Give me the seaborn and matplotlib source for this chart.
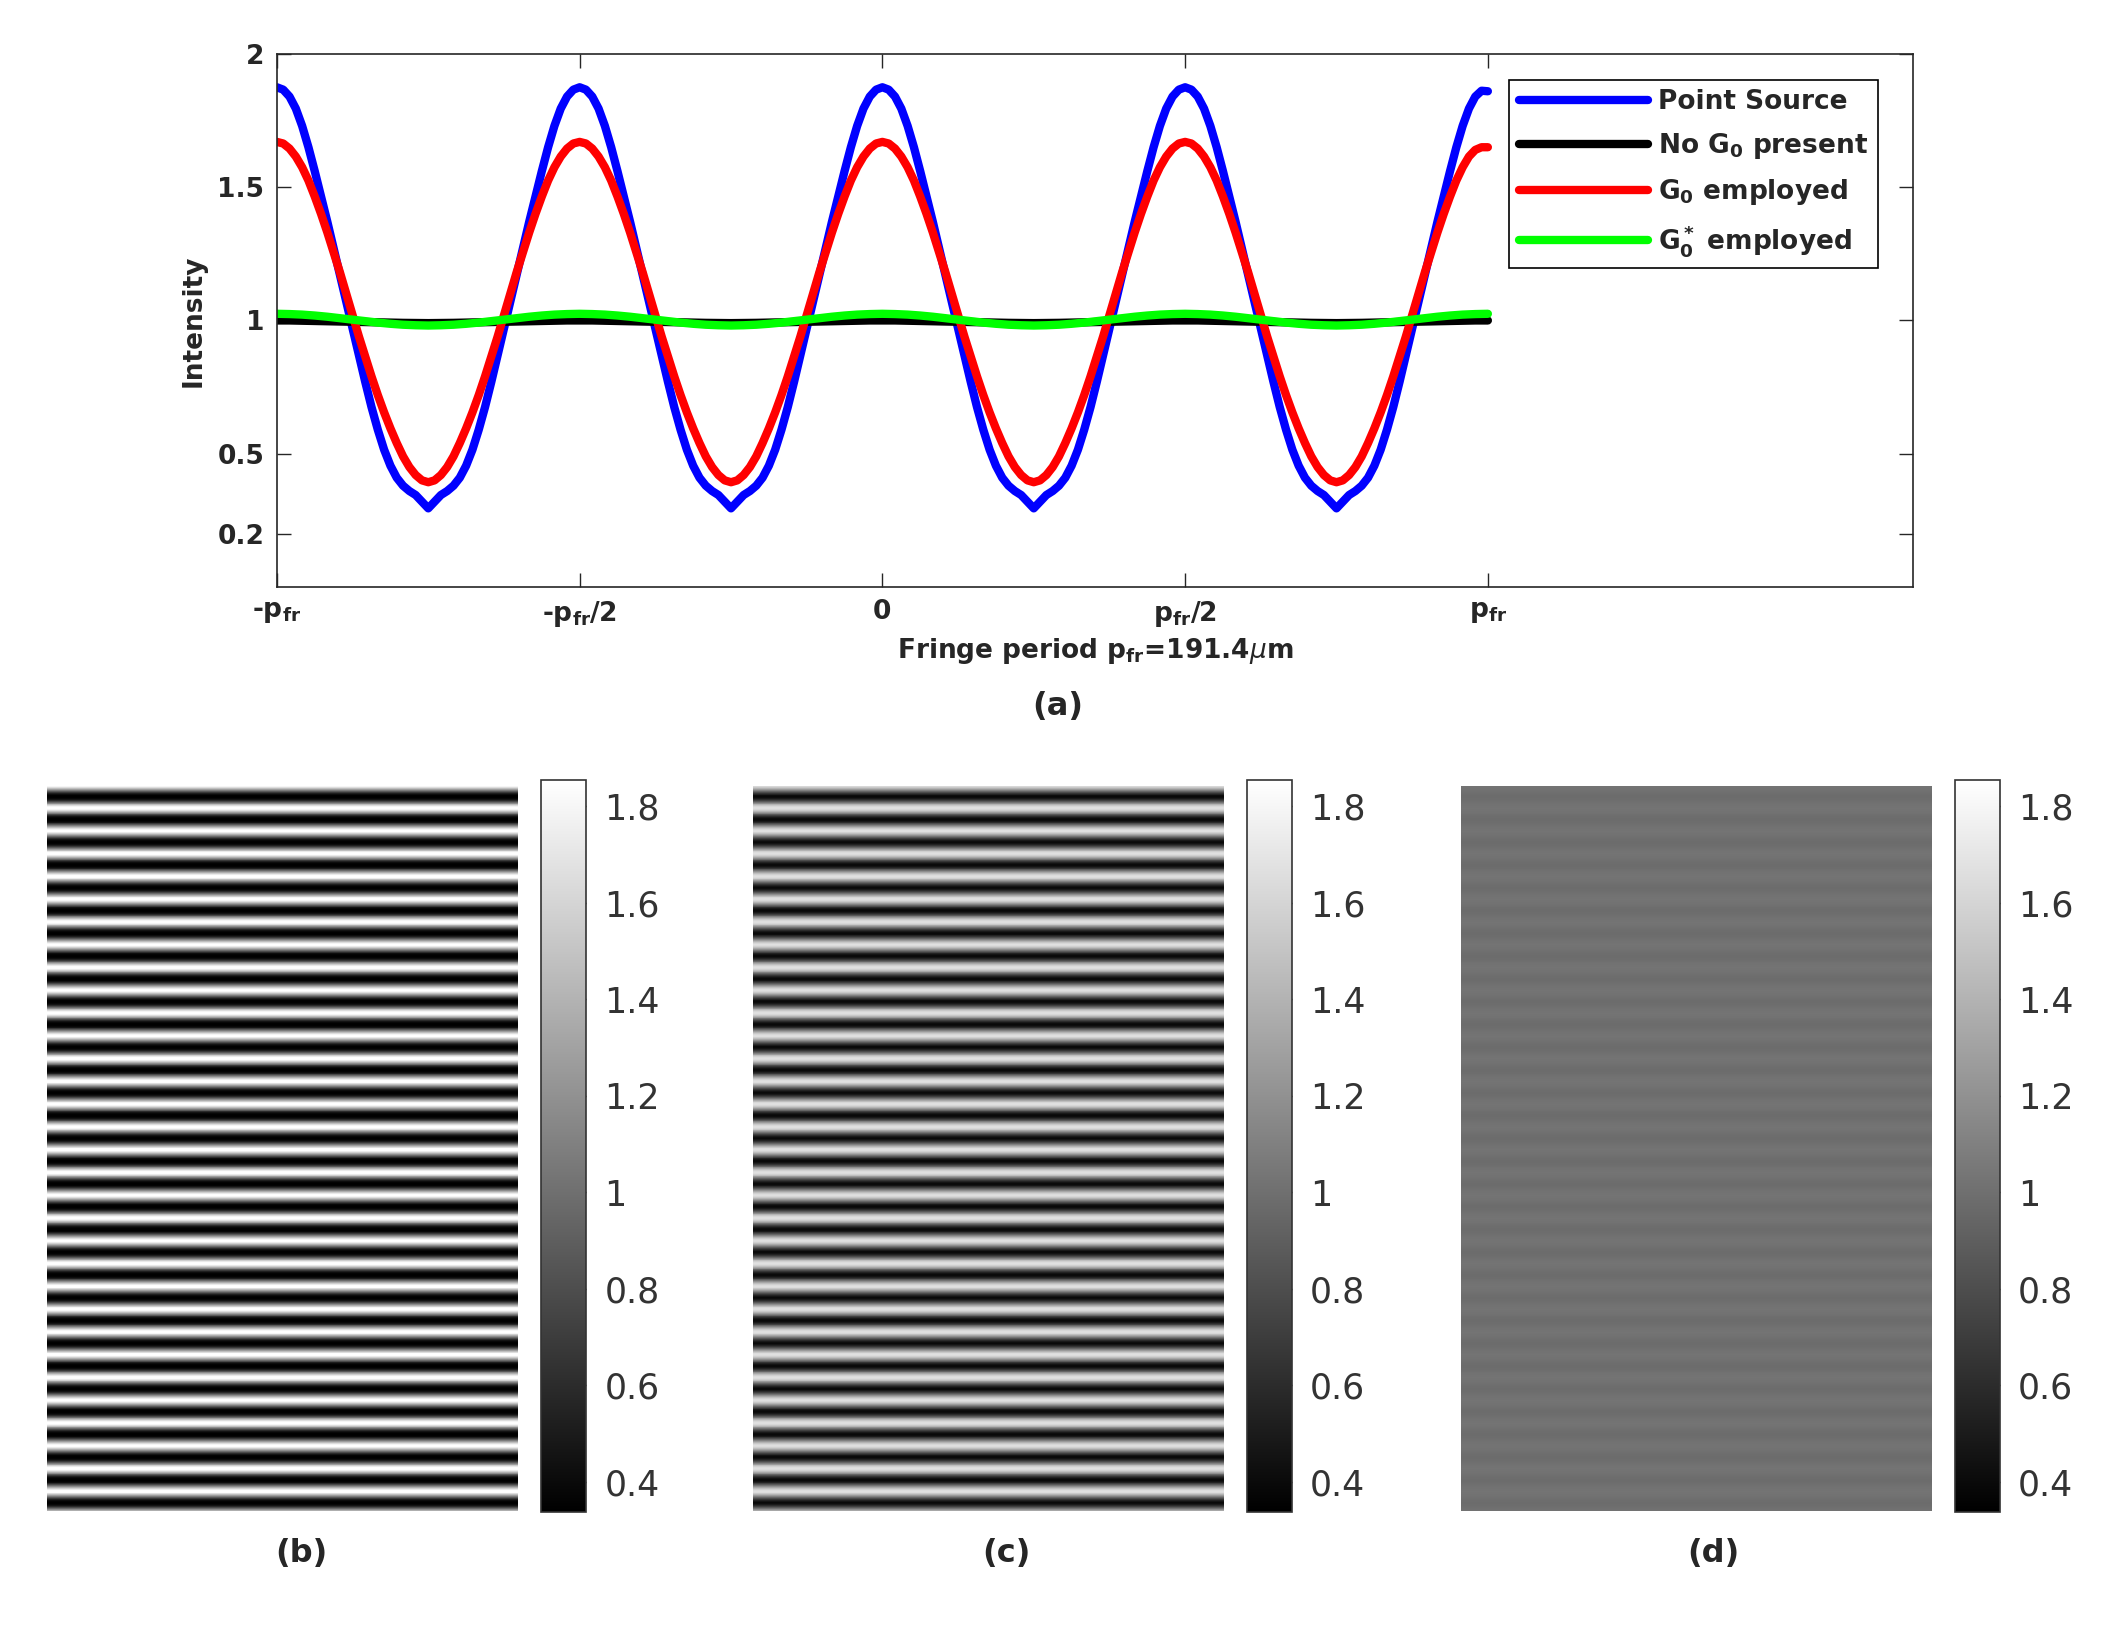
import numpy as np
import pandas as pd
import matplotlib
matplotlib.use("Agg")
import matplotlib.pyplot as plt
import seaborn as sns

# fringe profiles, from -p_fr to p_fr
x_fine = np.linspace(-1, 1, 193)     # every p_fr/96
x_coarse = np.linspace(-1, 1, 97)    # every p_fr/48

point_source = [
    1.875, 1.866, 1.84, 1.795, 1.73, 1.65, 1.56, 1.465, 1.37, 1.27, 1.17, 1.07, 0.97, 0.87, 0.77, 0.675, 0.59, 0.515, 0.455, 0.41, 0.38, 0.36, 0.345, 0.32,
    0.295, 0.32, 0.345, 0.36, 0.38, 0.41, 0.455, 0.515, 0.59, 0.675, 0.77, 0.87, 0.97, 1.07, 1.17, 1.27, 1.37, 1.465, 1.56, 1.65, 1.73, 1.795, 1.84, 1.866,
    1.875, 1.866, 1.84, 1.795, 1.73, 1.65, 1.56, 1.465, 1.37, 1.27, 1.17, 1.07, 0.97, 0.87, 0.77, 0.675, 0.59, 0.515, 0.455, 0.41, 0.38, 0.36, 0.345, 0.32,
    0.295, 0.32, 0.345, 0.36, 0.38, 0.41, 0.455, 0.515, 0.59, 0.675, 0.77, 0.87, 0.97, 1.07, 1.17, 1.27, 1.37, 1.465, 1.56, 1.65, 1.73, 1.795, 1.84, 1.866,
    1.875, 1.866, 1.84, 1.795, 1.73, 1.65, 1.56, 1.465, 1.37, 1.27, 1.17, 1.07, 0.97, 0.87, 0.77, 0.675, 0.59, 0.515, 0.455, 0.41, 0.38, 0.36, 0.345, 0.32,
    0.295, 0.32, 0.345, 0.36, 0.38, 0.41, 0.455, 0.515, 0.59, 0.675, 0.77, 0.87, 0.97, 1.07, 1.17, 1.27, 1.37, 1.465, 1.56, 1.65, 1.73, 1.795, 1.84, 1.866,
    1.875, 1.866, 1.84, 1.795, 1.73, 1.65, 1.56, 1.465, 1.37, 1.27, 1.17, 1.07, 0.97, 0.87, 0.77, 0.675, 0.59, 0.515, 0.455, 0.41, 0.38, 0.36, 0.345, 0.32,
    0.295, 0.32, 0.345, 0.36, 0.38, 0.41, 0.455, 0.515, 0.59, 0.675, 0.77, 0.87, 0.97, 1.07, 1.17, 1.27, 1.37, 1.465, 1.56, 1.65, 1.73, 1.795, 1.84, 1.862,
    1.86]

g0 = [
    1.67, 1.664, 1.645, 1.615, 1.575, 1.525, 1.465, 1.40, 1.33, 1.255, 1.18, 1.10, 1.02, 0.94, 0.865, 0.79, 0.72, 0.655, 0.595, 0.54, 0.49, 0.45, 0.42, 0.40,
    0.393, 0.40, 0.42, 0.45, 0.49, 0.54, 0.595, 0.655, 0.72, 0.79, 0.865, 0.94, 1.02, 1.10, 1.18, 1.255, 1.33, 1.40, 1.465, 1.525, 1.575, 1.615, 1.645, 1.664,
    1.67, 1.664, 1.645, 1.615, 1.575, 1.525, 1.465, 1.40, 1.33, 1.255, 1.18, 1.10, 1.02, 0.94, 0.865, 0.79, 0.72, 0.655, 0.595, 0.54, 0.49, 0.45, 0.42, 0.40,
    0.393, 0.40, 0.42, 0.45, 0.49, 0.54, 0.595, 0.655, 0.72, 0.79, 0.865, 0.94, 1.02, 1.10, 1.18, 1.255, 1.33, 1.40, 1.465, 1.525, 1.575, 1.615, 1.645, 1.664,
    1.67, 1.664, 1.645, 1.615, 1.575, 1.525, 1.465, 1.40, 1.33, 1.255, 1.18, 1.10, 1.02, 0.94, 0.865, 0.79, 0.72, 0.655, 0.595, 0.54, 0.49, 0.45, 0.42, 0.40,
    0.393, 0.40, 0.42, 0.45, 0.49, 0.54, 0.595, 0.655, 0.72, 0.79, 0.865, 0.94, 1.02, 1.10, 1.18, 1.255, 1.33, 1.40, 1.465, 1.525, 1.575, 1.615, 1.645, 1.664,
    1.67, 1.664, 1.645, 1.615, 1.575, 1.525, 1.465, 1.40, 1.33, 1.255, 1.18, 1.10, 1.02, 0.94, 0.865, 0.79, 0.72, 0.655, 0.595, 0.54, 0.49, 0.45, 0.42, 0.40,
    0.393, 0.40, 0.42, 0.45, 0.49, 0.54, 0.595, 0.655, 0.72, 0.79, 0.865, 0.94, 1.02, 1.10, 1.18, 1.255, 1.33, 1.40, 1.465, 1.525, 1.575, 1.615, 1.64, 1.65,
    1.65]

no_g0 = [
    1.0, 1.0, 0.999, 0.998, 0.997, 0.996, 0.995, 0.994, 0.993, 0.992, 0.991, 0.9905, 0.99, 0.9905, 0.991, 0.992, 0.993, 0.994, 0.995, 0.996, 0.997, 0.998, 0.999, 1.0,
    1.0, 1.0, 0.999, 0.998, 0.997, 0.996, 0.995, 0.994, 0.993, 0.992, 0.991, 0.9905, 0.99, 0.9905, 0.991, 0.992, 0.993, 0.994, 0.995, 0.996, 0.997, 0.998, 0.999, 1.0,
    1.0, 1.0, 0.999, 0.998, 0.997, 0.996, 0.995, 0.994, 0.993, 0.992, 0.991, 0.9905, 0.99, 0.9905, 0.991, 0.992, 0.993, 0.994, 0.995, 0.996, 0.997, 0.998, 0.999, 1.0,
    1.0, 1.0, 0.999, 0.998, 0.997, 0.996, 0.995, 0.994, 0.993, 0.992, 0.991, 0.9905, 0.99, 0.9905, 0.991, 0.992, 0.993, 0.994, 0.995, 0.996, 0.997, 0.998, 0.999, 1.0,
    1.0]

g0_star = [
    1.025, 1.024, 1.022, 1.0185, 1.014, 1.0085, 1.003, 0.9975, 0.992, 0.9875, 0.984, 0.982, 0.981, 0.982, 0.984, 0.9875, 0.992, 0.9975, 1.003, 1.0085, 1.014, 1.0185, 1.022, 1.024,
    1.025, 1.024, 1.022, 1.0185, 1.014, 1.0085, 1.003, 0.9975, 0.992, 0.9875, 0.984, 0.982, 0.981, 0.982, 0.984, 0.9875, 0.992, 0.9975, 1.003, 1.0085, 1.014, 1.0185, 1.022, 1.024,
    1.025, 1.024, 1.022, 1.0185, 1.014, 1.0085, 1.003, 0.9975, 0.992, 0.9875, 0.984, 0.982, 0.981, 0.982, 0.984, 0.9875, 0.992, 0.9975, 1.003, 1.0085, 1.014, 1.0185, 1.022, 1.024,
    1.025, 1.024, 1.022, 1.0185, 1.014, 1.0085, 1.003, 0.9975, 0.992, 0.9875, 0.984, 0.982, 0.981, 0.982, 0.984, 0.9875, 0.992, 0.9975, 1.003, 1.0085, 1.014, 1.0185, 1.022, 1.024,
    1.025]

series_names = ["Point Source", "No G$_0$ present", "G$_0$ employed", "G$_0^*$ employed"]
series_colors = ["#0000ff", "#000000", "#ff0000", "#00ff00"]

x_ticks = [-1, -0.5, 0, 0.5, 1]
x_ticklabels = ["-p$_{fr}$", "-p$_{fr}$/2", "0", "p$_{fr}$/2", "p$_{fr}$"]
y_ticks = [0.2, 0.5, 1, 1.5, 2]
y_ticklabels = ["0.2", "0.5", "1", "1.5", "2"]

cbar_ticks = [0.4, 0.6, 0.8, 1.0, 1.2, 1.4, 1.6, 1.8]
cbar_labels = ["0.4", "0.6", "0.8", "1", "1.2", "1.4", "1.6", "1.8"]
vmin, vmax = 0.337, 1.855
n_rows = 1528  # about 32 fringes on the detector crop
n_cols = 60

sns.set_style("ticks")
plt.rcParams["mathtext.default"] = "bf"
plt.rcParams["font.family"] = ["DejaVu Sans"]
dark = "#262626"
fs = 19

fig = plt.figure(figsize=(21.17, 16.30), dpi=100)

# (a) line profiles
ax = fig.add_axes([0.1308, 0.6399, 0.7728, 0.3270])
df = pd.concat([
    pd.DataFrame({"x": x_fine, "I": point_source, "series": series_names[0]}),
    pd.DataFrame({"x": x_coarse, "I": no_g0, "series": series_names[1]}),
    pd.DataFrame({"x": x_fine, "I": g0, "series": series_names[2]}),
    pd.DataFrame({"x": x_coarse, "I": g0_star, "series": series_names[3]}),
], ignore_index=True)
sns.lineplot(data=df, x="x", y="I", hue="series", hue_order=series_names,
             palette=dict(zip(series_names, series_colors)), linewidth=6,
             estimator=None, sort=False, legend=False, ax=ax)
for ln in ax.lines:
    ln.set_solid_joinstyle("round")
    ln.set_solid_capstyle("round")
ax.set_xlim(-1, 1.702)
ax.set_ylim(0, 2)
ax.set_xticks(x_ticks)
ax.set_xticklabels(x_ticklabels)
ax.set_yticks(y_ticks)
ax.set_yticklabels(y_ticklabels)
ax.tick_params(direction="in", top=True, right=True, length=10, width=1,
               labelsize=fs, pad=9, colors=dark)
for lab in ax.get_xticklabels() + ax.get_yticklabels():
    lab.set_fontweight("bold")
for sp in ax.spines.values():
    sp.set_linewidth(1.2)
    sp.set_color(dark)
ax.set_xlabel("Fringe period p$_{fr}$=191.4$\\mathit{\\mu}$m", fontsize=fs,
              fontweight="bold", color=dark, labelpad=5)
ax.set_ylabel("Intensity", fontsize=fs, fontweight="bold", color=dark, labelpad=8)
leg = ax.legend(handles=ax.lines[:4], labels=series_names, loc="upper right",
                bbox_to_anchor=(0.9786, 0.951), borderaxespad=0,
                prop={"weight": "bold", "size": fs}, handlelength=4.9,
                handletextpad=0.4, labelspacing=0.6, borderpad=0.35,
                frameon=True, fancybox=False, framealpha=1, edgecolor="#000000")
leg.get_frame().set_linewidth(1.2)
fig.text(0.4998, 0.5663, "(a)", fontsize=23, fontweight="bold", color=dark,
         ha="center", va="center")

# (b)-(d) detector images built from the profiles above
fringe = 48
panels = [(point_source, 0.0222, 0.2556, 0.1422, "(b)"),
          (g0, 0.3557, 0.5890, 0.4752, "(c)"),
          (g0_star, 0.6901, 0.9235, 0.8092, "(d)")]
for prof, left, cleft, tx, tag in panels:
    iax = fig.add_axes([left, 0.0730, 0.2225, 0.4448])
    cax = fig.add_axes([cleft, 0.0724, 0.0213, 0.4491])
    period = np.asarray(prof[:fringe]) if len(prof) == 193 else np.repeat(prof[:fringe // 2], 2)
    col = np.tile(period, n_rows // fringe + 2)[2:2 + n_rows]
    img = np.repeat(col[:, None], n_cols, axis=1)
    sns.heatmap(img, ax=iax, cbar_ax=cax, cmap="gray", vmin=vmin, vmax=vmax,
                xticklabels=False, yticklabels=False)
    cb = iax.collections[0].colorbar
    cb.outline.set_visible(True)
    cb.outline.set_linewidth(1.2)
    cb.outline.set_edgecolor("#333333")
    cb.set_ticks(cbar_ticks, labels=cbar_labels)
    cax.tick_params(direction="in", length=5, width=1, labelsize=25, pad=13,
                    colors="#333333")
    fig.text(tx, 0.0472, tag, fontsize=23, fontweight="bold", color=dark,
             ha="center", va="center")

fig.savefig("out.png", dpi=100)
